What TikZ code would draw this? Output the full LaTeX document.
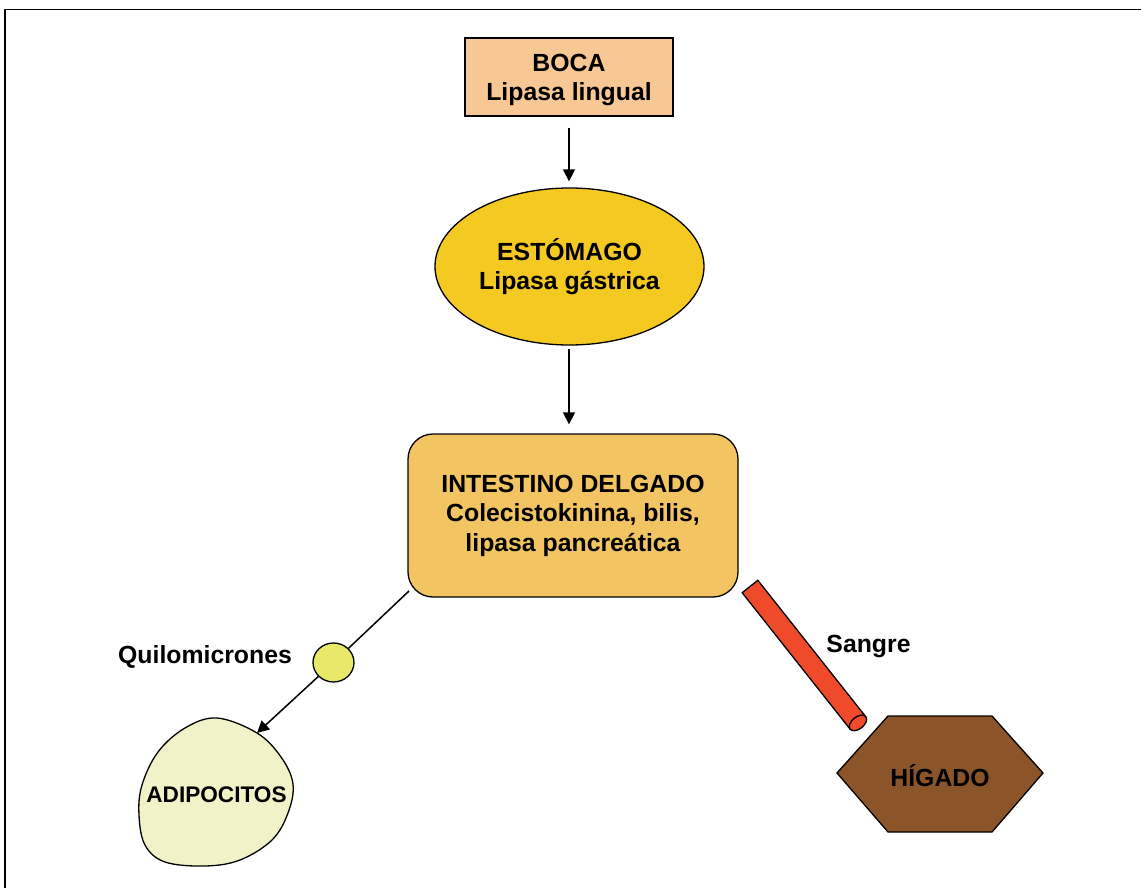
\documentclass[tikz,border=0pt]{standalone}
\usepackage{fontspec}
\setmainfont{Liberation Sans}
\usetikzlibrary{shapes.geometric,arrows.meta}
\definecolor{bocac}{HTML}{F7C794}
\definecolor{estc}{HTML}{F4C922}
\definecolor{intc}{HTML}{F2C462}
\definecolor{quic}{HTML}{E8E86A}
\definecolor{adic}{HTML}{F2F2C8}
\definecolor{tubec}{HTML}{EF4B2B}
\definecolor{higc}{HTML}{8B5529}
\begin{document}
\begin{tikzpicture}[x=1pt,y=-1pt,
  font=\fontsize{24.8}{29.5}\selectfont\bfseries,
  organ/.style={draw=black, line width=1.3pt, align=center, inner sep=0pt},
  link/.style={draw=black, line width=1.5pt},
  arr/.style={link, -{Triangle[length=12pt,width=12pt]}},
  lbl/.style={anchor=base, inner sep=0pt}]
\useasboundingbox (0,0) rectangle (1141,888);
% frame
\draw[line width=1.8pt] (5,888) -- (5,9.5) -- (1141,9.5);
% nodes
\node[organ, fill=bocac, minimum width=208pt, minimum height=78pt] (boca) at (569,77) {};
\node[align=center, inner sep=0pt] (bocat) at ([yshift=-3pt]boca.center) {BOCA\\Lipasa lingual};
\node[organ, ellipse, fill=estc, minimum width=269pt, minimum height=157pt] (est) at (569.5,266.5) {ESTÓMAGO\\Lipasa gástrica};
\node[organ, fill=intc, rounded corners=25pt, minimum width=330pt, minimum height=163pt] (int) at (573,515.5) {INTESTINO DELGADO\\Colecistokinina, bilis,\\lipasa pancreática};
\node[organ, ellipse, fill=quic, minimum width=41pt, minimum height=39pt] (qui) at (333.5,662.5) {};
% adipocitos blob
\draw[line width=1.3pt, fill=adic] plot[smooth cycle, tension=0.6] coordinates {
 (217,718) (257,733) (281,757) (293,784) (288,813) (272,840) (240,860)
 (205,866) (165,862) (145,845) (139,815) (142,785) (158,752) (185,728)};
\coordinate (adtip) at (257,733);
\node[lbl, font=\fontsize{22.6}{27}\selectfont\bfseries] (adi) at (216.5,802) {ADIPOCITOS};
% liver hexagon
\draw[line width=1.3pt, fill=higc] (888,716) -- (992,716) -- (1043,773) -- (992,832) -- (888,832) -- (837,773) -- cycle;
\node[lbl] (hig) at (940,786) {HÍGADO};
% labels
\node[lbl] (quil) at (205,663) {Quilomicrones};
\node[lbl] (san) at (868.5,652) {Sangre};
% connectors
\draw[arr] ([yshift=-11pt]boca.south) -- ([yshift=6pt]boca.south |- est.north);
\draw[arr] ([yshift=-3pt]boca.south |- est.south) -- ([yshift=9pt]boca.south |- int.north);
\coordinate (ints) at (409,591);
\draw[link] (ints) -- (qui);
\draw[arr] (qui) -- (adtip);
% blood tube
\begin{scope}[shift={(750,586.5)}, rotate=-51.65, x=1pt, y=1pt]
  \draw[line width=1.3pt, fill=tubec] (0,10) -- (174,10) -- (174,-10) -- (0,-10) -- cycle;
  \draw[line width=1.3pt, fill=tubec] (174,0) ellipse [x radius=6, y radius=10];
\end{scope}
\end{tikzpicture}
\end{document}
